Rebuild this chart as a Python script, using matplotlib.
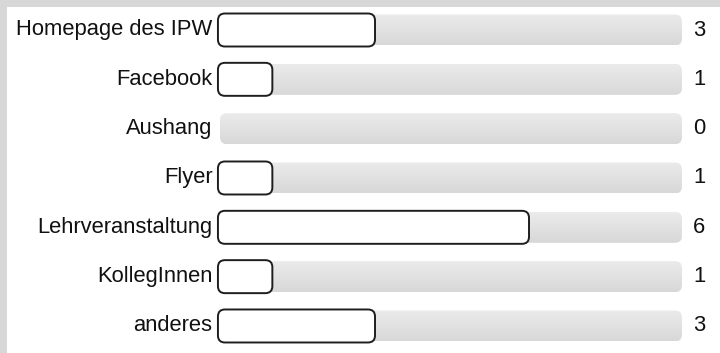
import matplotlib
matplotlib.use("Agg")
import matplotlib.pyplot as plt
import numpy as np
from matplotlib.patches import FancyBboxPatch, Rectangle
from matplotlib.colors import LinearSegmentedColormap

categories = ["Homepage des IPW", "Facebook", "Aushang", "Flyer",
              "Lehrveranstaltung", "KollegInnen", "anderes"]
values = [3, 1, 0, 1, 6, 1, 3]
track_max = 9

W, H = 720, 353
fig = plt.figure(figsize=(W / 100, H / 100), dpi=100)
fig.patch.set_facecolor("#d7d7d7")

left_px, top_px = 7, 7
ax = fig.add_axes([left_px / W, 0, 1 - left_px / W, (H - top_px) / H])
ax.set_axis_off()
ax.add_patch(Rectangle((0, 0), 1, 1, transform=ax.transAxes,
                       facecolor="white", edgecolor="none", zorder=0))

xpx = 51.33   # pixels per value unit
ypx = 49.33   # pixels per row
x0px = 220
y0px = 30
xlim = ((left_px - x0px) / xpx, (W - x0px) / xpx)
ylim = ((H - y0px) / ypx, (top_px - y0px) / ypx)
aspect = xpx / ypx

cmap = LinearSegmentedColormap.from_list("trk", ["#ebebeb", "#d8d8d8"])
grad = np.linspace(0, 1, 64).reshape(-1, 1)

track_h = 31 / ypx
bar_h = 33 / ypx
rad = 7 / xpx
font = ["Liberation Sans", "DejaVu Sans"]

for i, (cat, v) in enumerate(zip(categories, values)):
    tx0, tx1 = 0.0, track_max
    track = FancyBboxPatch((tx0, i - track_h / 2), tx1 - tx0, track_h,
                           boxstyle=f"round,pad=0,rounding_size={rad}",
                           mutation_aspect=aspect, facecolor="none",
                           edgecolor="none", zorder=1)
    ax.add_patch(track)
    im = ax.imshow(grad, cmap=cmap, aspect="auto", origin="upper",
                   extent=(tx0, tx1, i + track_h / 2, i - track_h / 2),
                   zorder=1, interpolation="bilinear")
    im.set_clip_path(track)
    if v > 0:
        bar = FancyBboxPatch((-0.04, i - bar_h / 2), v + 0.06, bar_h,
                             boxstyle=f"round,pad=0,rounding_size={rad}",
                             mutation_aspect=aspect, facecolor="white",
                             edgecolor="#1e1e1e", linewidth=1.4, zorder=2)
        ax.add_patch(bar)
    ax.text(-7.5 / xpx, i, cat, ha="right", va="center", fontsize=15.8,
            color="#111111", family=font)
    ax.text(track_max + 11 / xpx, i, str(v), ha="left", va="center",
            fontsize=15.8, color="#111111", family=font)

ax.set_xlim(*xlim)
ax.set_ylim(*ylim)

fig.savefig("out.png", dpi=100, facecolor=fig.get_facecolor())
